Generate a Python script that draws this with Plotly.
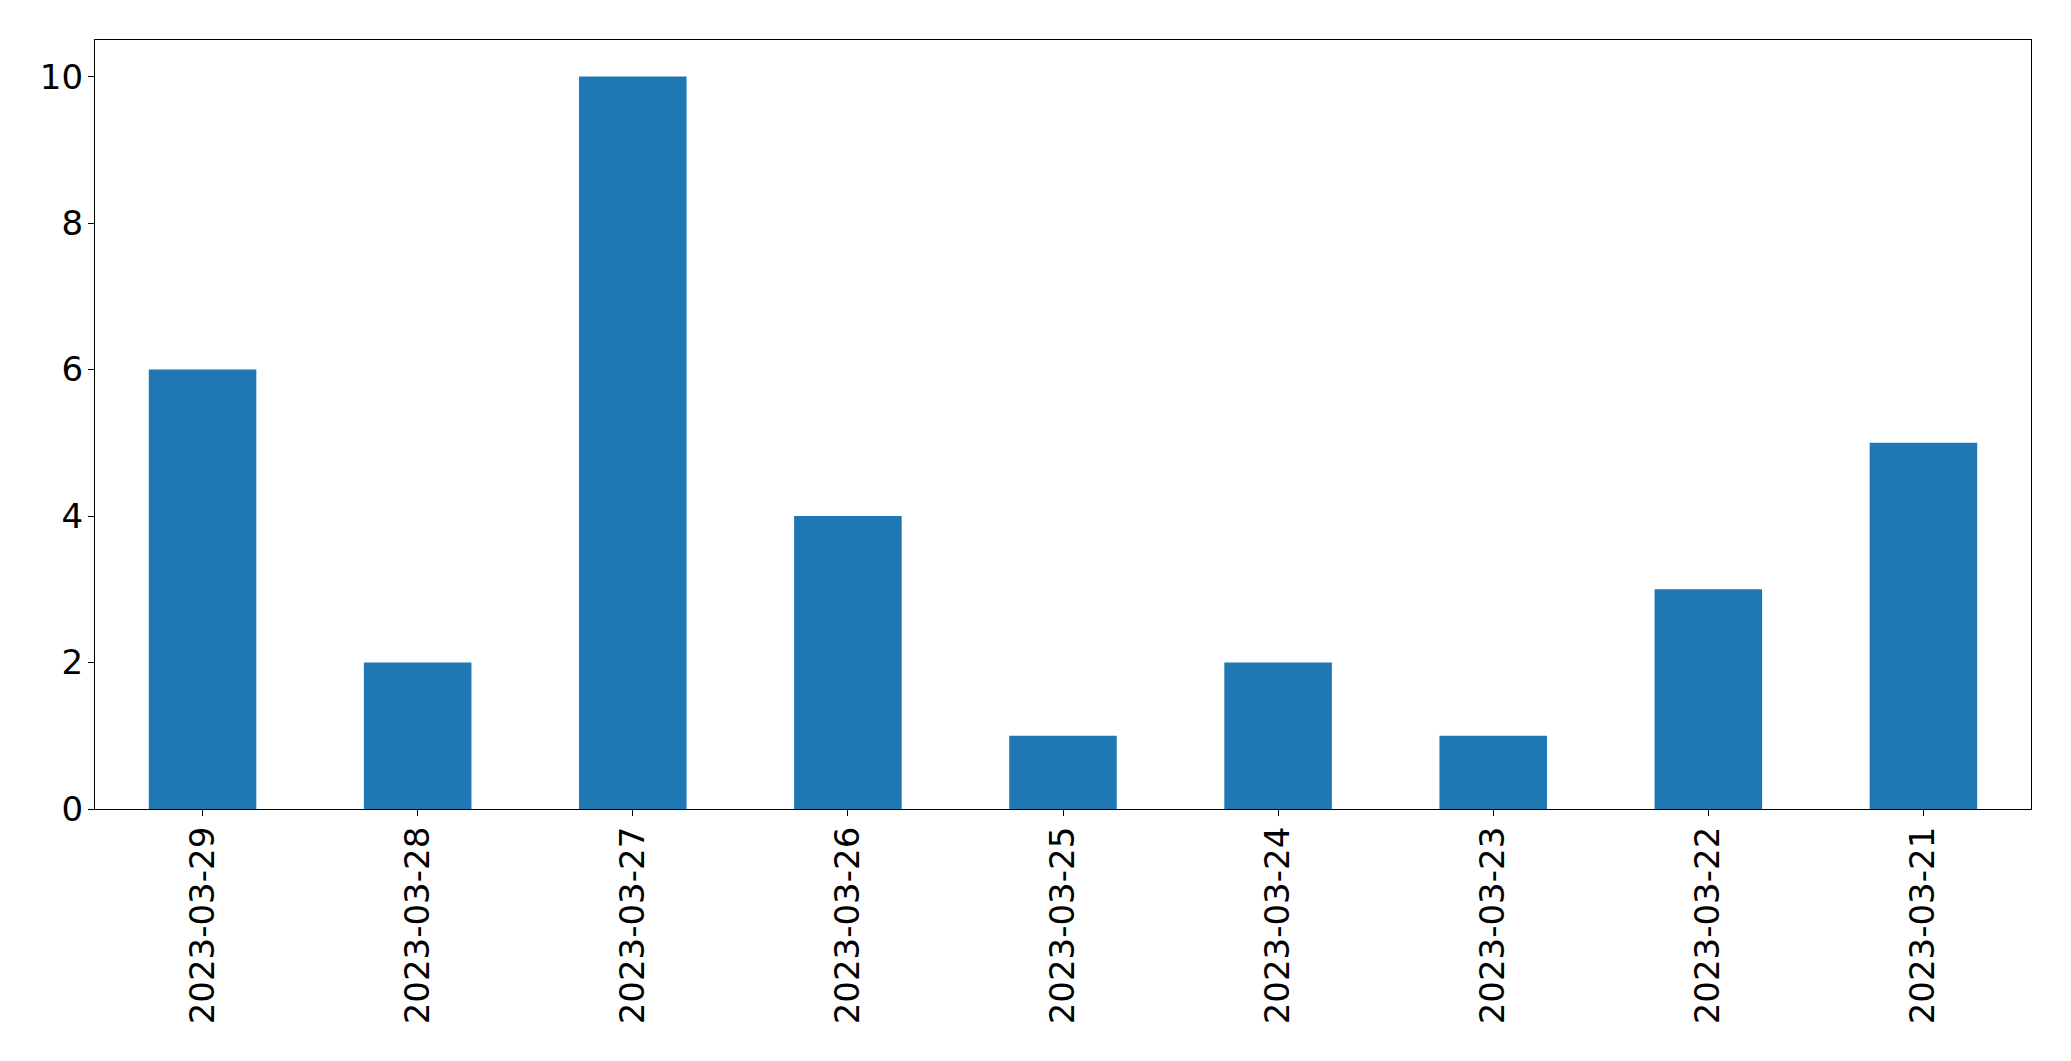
import plotly.graph_objects as go

dates = ["2023-03-29", "2023-03-28", "2023-03-27", "2023-03-26", "2023-03-25",
         "2023-03-24", "2023-03-23", "2023-03-22", "2023-03-21"]
counts = [6, 2, 10, 4, 1, 2, 1, 3, 5]
y_ticks = [0, 2, 4, 6, 8, 10]

fig = go.Figure(go.Bar(x=list(range(len(dates))), y=counts, width=0.5,
                       marker=dict(color="#1f77b4", line=dict(width=0))))

font = dict(family="DejaVu Sans", size=34, color="black")
fig.update_layout(
    width=2071, height=1061, autosize=False,
    margin=dict(l=94.5, r=39.5, t=39.5, b=252, pad=0),
    plot_bgcolor="white", paper_bgcolor="white",
    showlegend=False, font=font,
)
fig.update_xaxes(
    tickmode="array", tickvals=list(range(len(dates))), ticktext=dates,
    tickangle=-90, range=[-0.5, len(dates) - 0.5],
    showline=True, linecolor="black", linewidth=1.3, mirror=True,
    ticks="outside", ticklen=6, tickwidth=1.3, tickcolor="black",
    showgrid=False, zeroline=False, tickfont=font, ticklabelstandoff=-3,
)
fig.update_yaxes(
    tickmode="array", tickvals=y_ticks, range=[0, 10.5],
    showline=True, linecolor="black", linewidth=1.3, mirror=True,
    ticks="outside", ticklen=6, tickwidth=1.3, tickcolor="black",
    showgrid=False, zeroline=False, tickfont=font, ticklabelstandoff=-2,
)
fig.write_html("out.html", config={"displayModeBar": False},
               post_script="document.body.style.margin='0';")
